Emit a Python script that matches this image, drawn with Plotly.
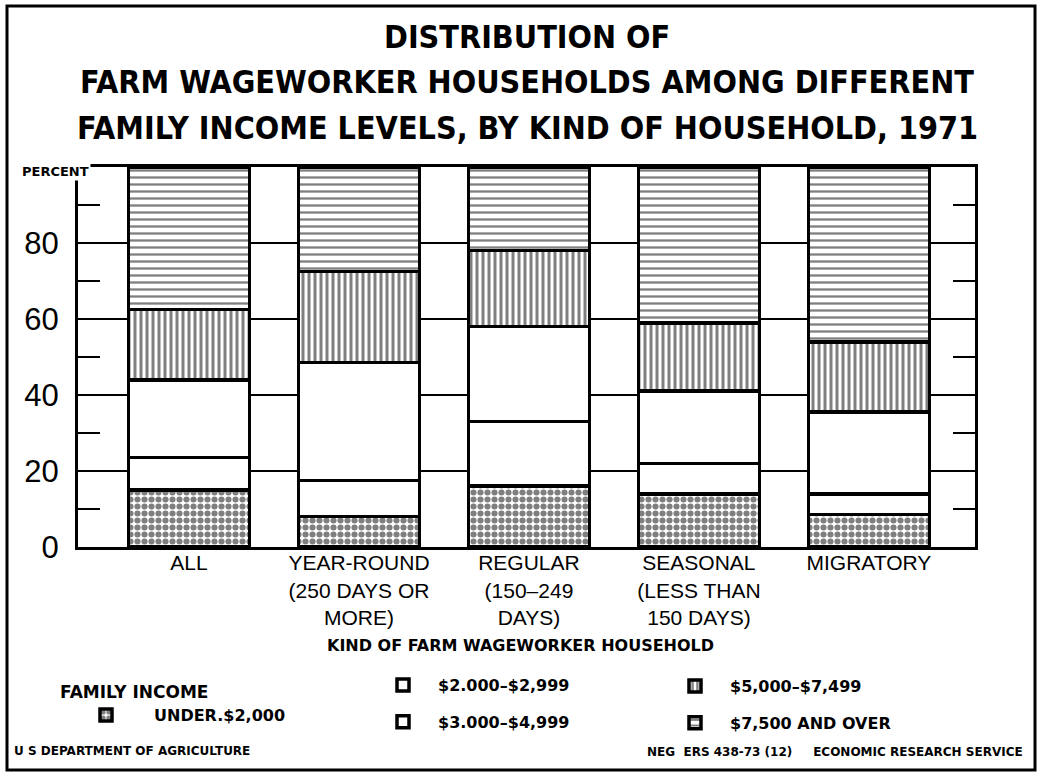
import plotly.graph_objects as go

# ---------------- data ----------------
categories = [
    "ALL",
    "YEAR-ROUND<br>(250 DAYS OR<br>MORE)",
    "REGULAR<br>(150–249<br>DAYS)",
    "SEASONAL<br>(LESS THAN<br>150 DAYS)",
    "MIGRATORY",
]
under_2000 = [15, 8, 16, 14, 8.5]
inc_2000_2999 = [8.5, 9.5, 17, 8, 5.5]
inc_3000_4999 = [20.5, 31, 25, 19, 21.5]
inc_5000_7499 = [18.5, 24, 20, 18, 18.5]
inc_7500_over = [37.5, 27.5, 22, 41, 46]

series_names = ["UNDER.$2,000", "$2.000–$2,999", "$3.000–$4,999",
                "$5,000–$7,499", "$7,500 AND OVER"]
series_values = [under_2000, inc_2000_2999, inc_3000_4999, inc_5000_7499, inc_7500_over]

y_tickvals = [0, 20, 40, 60, 80]
y_minor = [10, 30, 50, 70, 90]

title_lines = ["DISTRIBUTION OF",
               "FARM WAGEWORKER HOUSEHOLDS AMONG DIFFERENT",
               "FAMILY INCOME LEVELS, BY KIND OF HOUSEHOLD, 1971"]

# ---------------- layout constants ----------------
W, H = 1040, 776
L, R, T, B = 78, 975, 167, 547

def px(x):
    return (x - L) / (R - L)

def py(y):
    return (B - y) / (B - T)

COND = "DejaVu Sans Condensed, Liberation Sans Narrow, Arial Narrow, sans-serif"
WIDE = "DejaVu Sans, Verdana, sans-serif"
HELV = "Liberation Sans, Arial, Helvetica, sans-serif"

patterns = [
    dict(shape=".", size=7, solidity=0.6, fgcolor="black", bgcolor="white"),
    dict(shape="", bgcolor="white"),
    dict(shape="", bgcolor="white"),
    dict(shape="|", size=6, solidity=0.5, fgcolor="black", bgcolor="white"),
    dict(shape="-", size=7, solidity=0.33, fgcolor="black", bgcolor="white"),
]
legend_ids = ["legend", "legend2", "legend2", "legend3", "legend3"]

fig = go.Figure()
for i, (name, vals) in enumerate(zip(series_names, series_values)):
    fig.add_trace(go.Bar(
        x=categories, y=vals, name=name,
        width=0.71,
        marker=dict(color="white", pattern=patterns[i],
                    line=dict(color="black", width=3.5)),
        legend=legend_ids[i], legendgroup=name,
        hoverinfo="skip",
    ))

legend_font = dict(family=WIDE, size=16, color="black", weight="bold")
fig.update_layout(
    width=W, height=H,
    margin=dict(l=L, r=W - R, t=T, b=H - B, pad=0),
    paper_bgcolor="white", plot_bgcolor="white",
    barmode="stack",
    showlegend=True,
    legend=dict(x=px(58), y=py(676), xanchor="left", yanchor="top",
                title=dict(text="FAMILY INCOME", side="top",
                           font=dict(family=WIDE, size=17, color="black", weight="bold")),
                font=legend_font, itemwidth=86, tracegroupgap=12,
                bgcolor="rgba(0,0,0,0)", traceorder="grouped"),
    legend2=dict(x=px(368), y=py(668), xanchor="left", yanchor="top",
                 font=legend_font, itemwidth=60, tracegroupgap=13,
                 bgcolor="rgba(0,0,0,0)", traceorder="grouped"),
    legend3=dict(x=px(660), y=py(669), xanchor="left", yanchor="top",
                 font=legend_font, itemwidth=60, tracegroupgap=13,
                 bgcolor="rgba(0,0,0,0)", traceorder="grouped"),
    xaxis=dict(type="category", range=[-0.653, 4.624], showline=True,
               linecolor="black", linewidth=3, mirror=True, ticks="",
               showgrid=False, zeroline=False, ticklabelstandoff=-5,
               tickfont=dict(family=HELV, size=21, color="black")),
    yaxis=dict(range=[0, 100], tickmode="array", tickvals=y_tickvals,
               ticktext=[str(v) for v in y_tickvals],
               showgrid=True, gridcolor="black", gridwidth=2,
               showline=True, linecolor="black", linewidth=3, mirror="ticks",
               ticks="", zeroline=False, ticklabelstandoff=10,
               tickfont=dict(family=HELV, size=31, color="black"),
               minor=dict(tickmode="array", tickvals=y_minor, ticks="inside",
                          ticklen=22, tickwidth=2, tickcolor="black", showgrid=False)),
)

annotations = []
for ln, yc in zip(title_lines, [37, 82, 128]):
    annotations.append(dict(text="<b>" + ln + "</b>", x=px(527), y=py(yc),
                            xref="paper", yref="paper", xanchor="center", yanchor="middle",
                            showarrow=False, font=dict(family=COND, size=32, color="black")))
annotations += [
    dict(text="<b>PERCENT</b>", x=px(20), y=py(171), xref="paper", yref="paper",
         xanchor="left", yanchor="middle", showarrow=False, bgcolor="white",
         font=dict(family=WIDE, size=13, color="black")),
    dict(text="<b>KIND OF FARM WAGEWORKER HOUSEHOLD</b>", x=px(520), y=py(645),
         xref="paper", yref="paper", xanchor="center", yanchor="middle", showarrow=False,
         font=dict(family=WIDE, size=16, color="black")),
    dict(text="<b>U S DEPARTMENT OF AGRICULTURE</b>", x=px(12), y=py(751),
         xref="paper", yref="paper", xanchor="left", yanchor="middle", showarrow=False,
         font=dict(family=WIDE, size=12, color="black")),
    dict(text="<b>NEG  ERS 438-73 (12)     ECONOMIC RESEARCH SERVICE</b>", x=px(1025), y=py(752),
         xref="paper", yref="paper", xanchor="right", yanchor="middle", showarrow=False,
         font=dict(family=WIDE, size=12, color="black")),
]
fig.update_layout(annotations=annotations)

# outer frame
fig.add_shape(type="rect", xref="paper", yref="paper",
              x0=px(7), x1=px(1035), y0=py(770), y1=py(6),
              line=dict(color="black", width=3), fillcolor="rgba(0,0,0,0)", layer="above")

fig.write_html("out.html", config={"displayModeBar": False},
               post_script="document.body.style.margin='0';")
